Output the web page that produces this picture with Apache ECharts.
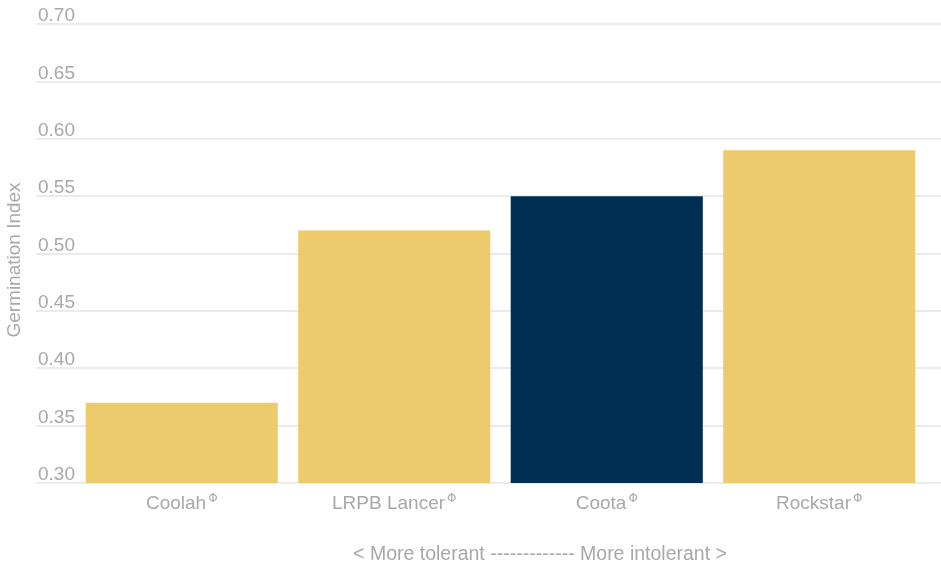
<!DOCTYPE html>
<html><head><meta charset="utf-8">
<script src="https://cdn.jsdelivr.net/npm/echarts@6/dist/echarts.min.js"></script>
<style>html,body{margin:0;padding:0;background:#fff}#c{width:941px;height:566px}</style>
</head><body><div id="c"></div>
<script>
const categories = ['Coolah', 'LRPB Lancer', 'Coota', 'Rockstar'];
const values = [0.37, 0.52, 0.55, 0.59];
const highlight = [false, false, true, false];
const yTicks = { min: 0.3, max: 0.7, interval: 0.05 };
const yName = 'Germination Index';
const footnote = '< More tolerant ------------- More intolerant >';

const YELLOW = '#EDCA6B', NAVY = '#002F56', GREY = '#a8a8a8';
const chart = echarts.init(document.getElementById('c'));
chart.setOption({
  animation: false,
  grid: [
    { left: 75.5, right: 15.5, top: 24, bottom: 83 },
    { left: 36, right: 0, top: 24, bottom: 83 }
  ],
  xAxis: [
    { type: 'category', data: categories, gridIndex: 0,
      axisLine: { show: false }, axisTick: { show: false },
      axisLabel: { margin: 10, color: GREY, fontFamily: 'Liberation Sans', fontSize: 19, lineHeight: 22,
        formatter: v => v + '{s|Φ}',
        rich: { s: { fontSize: 12, color: GREY, verticalAlign: 'top', lineHeight: 13, padding: [0, 0, 0, 2], fontFamily: 'DejaVu Sans' } } } },
    { type: 'value', gridIndex: 1, show: false, min: 0, max: 1 }
  ],
  yAxis: [
    { type: 'value', gridIndex: 0, min: yTicks.min, max: yTicks.max, interval: yTicks.interval,
      show: false, splitLine: { show: false } },
    { type: 'value', gridIndex: 1, min: yTicks.min, max: yTicks.max, interval: yTicks.interval,
      axisLine: { show: false }, axisTick: { show: false },
      splitLine: { show: true, lineStyle: { color: '#ebebeb', width: 2 } },
      axisLabel: { inside: true, margin: 2, align: 'left', verticalAlign: 'bottom',
        color: GREY, fontFamily: 'Liberation Sans', fontSize: 19, lineHeight: 16,
        formatter: v => v.toFixed(2) } }
  ],
  series: [
    { type: 'bar', xAxisIndex: 0, yAxisIndex: 0, barCategoryGap: '9.6%', z: 5,
      data: values.map((v, i) => ({ value: v, itemStyle: { color: highlight[i] ? NAVY : YELLOW } })) },
    { type: 'scatter', xAxisIndex: 1, yAxisIndex: 1, data: [], silent: true }
  ],
  graphic: [
    { type: 'text', x: 15, y: 260, rotation: Math.PI / 2,
      style: { text: yName, fill: GREY, font: '19px "Liberation Sans"', textAlign: 'center', textVerticalAlign: 'middle' } },
    { type: 'text', x: 540, y: 555,
      style: { text: footnote, fill: GREY, font: '19.5px "Liberation Sans"', textAlign: 'center', textVerticalAlign: 'middle' } }
  ]
});
</script></body></html>
